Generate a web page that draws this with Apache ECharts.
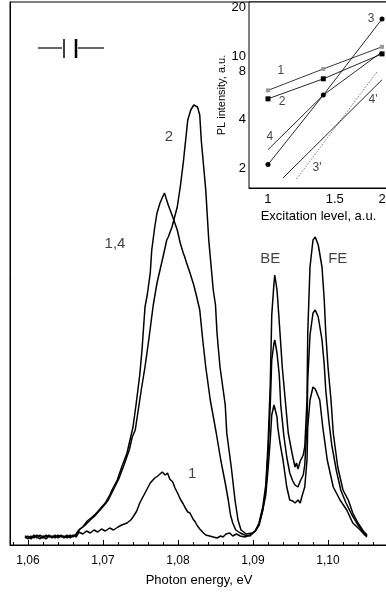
<!DOCTYPE html>
<html><head><meta charset="utf-8">
<script src="https://cdn.jsdelivr.net/npm/echarts@6/dist/echarts.min.js"></script>
<style>html,body{margin:0;padding:0;background:#fff}#c{width:386px;height:598px}</style>
</head><body><div id="c"></div>
<script>
// ---------- Main spectra (photon energy in eV, PL intensity in arbitrary units) ----------
const spectrum1Energy = [1.0596,1.0600,1.0604,1.0608,1.0612,1.0616,1.0620,1.0624,1.0628,1.0632,1.0636,1.0640,1.0644,1.0648,1.0652,1.0656,1.0660,1.0664,
  1.0668,1.0673,1.0678,1.0683,1.0688,1.0693,1.0698,1.0703,1.0709,1.0714,1.0720,1.0725,1.0732,1.0737,1.0740,1.0745,1.0749,1.0756,1.0763,1.0769,1.0773,1.0776,1.0779,1.0783,1.0786,1.0789,1.0793,1.0796,1.0800,1.0803,1.0807,1.0809,1.0813,1.0816,1.0820,1.0823,1.0826,1.0829,1.0834,1.0837,1.0842,1.0847,1.0852,1.0857,1.0860,1.0864,1.0869,1.0873,1.0878,1.0883,1.0889,1.0896,
  1.0903,1.0908,1.0913,1.0917,1.0920,1.0923,1.0925,1.0928,1.0929,1.0932,1.0933,1.0936,1.0940,1.0945,1.0949,1.0953,1.0956,1.0958,1.0960,1.0963,1.0965,1.0969,1.0972,1.0973,1.0976,1.0980,1.0983,1.0985,1.0989,1.0993,1.0999,1.1007,1.1016,1.1025,1.1033,1.1043,1.1049,1.1052];
const spectrum1Intensity = [7,9,7,10,8,6,9,8,10,7,9,8,10,7,9,8,10,8,
  13,11,14,12,15,13,16,14,17,15,18,20,22,25,28,34,42,52,62,67,69,71,73,70,72,66,63,57,51,46,41,38,33,32,26,23,19,16,12,10,9,8,7,9,8,11,12,9,11,9,8,10,
  14,20,35,50,75,105,130,140,142,128,118,102,85,58,45,44,42,40,45,42,48,58,85,118,145,158,156,155,145,118,85,58,45,35,22,15,10,8];

const spectrum14Energy = [1.0596,1.0600,1.0604,1.0608,1.0612,1.0616,1.0620,1.0624,1.0628,1.0632,1.0636,1.0640,1.0644,1.0648,1.0652,1.0656,1.0660,1.0664,
  1.0668,1.0673,1.0679,1.0684,1.0690,1.0696,1.0703,1.0709,1.0712,1.0719,1.0725,1.0732,1.0736,1.0740,1.0744,1.0749,1.0752,1.0756,1.0759,1.0763,1.0765,1.0769,1.0772,1.0776,1.0780,1.0782,1.0784,1.0787,1.0793,1.0799,1.0803,1.0807,1.0809,1.0811,1.0816,1.0821,1.0825,1.0829,1.0833,1.0837,1.0843,1.0851,1.0857,1.0863,1.0867,1.0870,1.0873,1.0877,1.0883,1.0889,1.0896,
  1.0903,1.0908,1.0913,1.0917,1.0920,1.0923,1.0925,1.0928,1.0929,1.0932,1.0935,1.0937,1.0941,1.0945,1.0949,1.0953,1.0956,1.0958,1.0960,1.0963,1.0967,1.0969,1.0972,1.0973,1.0976,1.0980,1.0983,1.0985,1.0987,1.0992,1.0995,1.0997,1.1001,1.1005,1.1011,1.1017,1.1024,1.1032,1.1040,1.1047,1.1052];
const spectrum14Intensity = [8,6,9,7,10,8,7,10,8,9,7,10,8,9,7,10,8,11,
  15,18,24,27,31,36,42,50,55,65,78,92,105,118,140,170,195,238,250,272,295,318,332,342,349,352,347,340,328,315,302,292,288,283,272,260,248,235,205,178,145,112,85,62,45,30,22,15,12,10,9,
  14,20,35,55,90,140,185,202,205,192,170,140,110,88,72,64,60,62,58,64,70,80,120,165,210,232,235,233,228,205,180,155,125,100,75,55,42,30,20,13,9];

const spectrum2Energy = [1.0596,1.0600,1.0604,1.0608,1.0612,1.0616,1.0620,1.0624,1.0628,1.0632,1.0636,1.0640,1.0644,1.0648,1.0652,1.0656,1.0660,1.0664,
  1.0669,1.0675,1.0683,1.0689,1.0696,1.0703,1.0707,1.0715,1.0721,1.0728,1.0735,1.0739,1.0743,1.0747,1.0751,1.0756,1.0761,1.0767,1.0772,1.0780,1.0785,1.0787,1.0792,1.0799,1.0803,1.0807,1.0813,1.0817,1.0821,1.0823,1.0826,1.0829,1.0831,1.0837,1.0841,1.0847,1.0850,1.0852,1.0856,1.0863,1.0865,1.0871,1.0876,1.0880,1.0884,1.0891,1.0899,
  1.0903,1.0908,1.0913,1.0917,1.0920,1.0923,1.0925,1.0928,1.0929,1.0932,1.0933,1.0936,1.0939,1.0943,1.0947,1.0952,1.0956,1.0958,1.0960,1.0963,1.0967,1.0969,1.0972,1.0973,1.0976,1.0980,1.0983,1.0985,1.0987,1.0992,1.0995,1.0997,1.1000,1.1004,1.1007,1.1013,1.1020,1.1027,1.1033,1.1040,1.1047,1.1052];
const spectrum2Intensity = [9,8,6,9,7,10,8,6,9,8,10,7,9,8,10,7,9,10,
  16,19,25,29,35,41,45,57,66,80,95,108,115,135,155,178,205,240,262,288,305,308,318,338,358,382,425,435,440,442,438,430,405,355,305,255,240,212,178,140,112,78,45,25,15,11,12,
  14,22,38,60,100,160,230,262,270,255,245,212,178,145,112,92,78,82,76,84,90,98,145,212,278,305,308,304,300,278,245,212,178,145,112,78,55,45,32,22,14,10];

const energyMajorTicks = [1.06, 1.07, 1.08, 1.09, 1.10];

// ---------- Inset (log-log) ----------
const excitationLevels = [1, 1.4, 2];
const inset1Values = [6.1, 8.3, 11.4];
const inset2Values = [5.4, 7.2, 10.3];
const inset3Values = [2.1, 5.7, 17];
const inset4Values = [2.6, 5.7, 10.6];
const fit3pExcitation = [1.19, 1.94];
const fit3pValues = [1.71, 7.96];
const fit4pExcitation = [1.095, 2.0];
const fit4pValues = [1.73, 7.1];
const insetXLabels = [1, 1.5, 2];
const insetYLabels = [2, 4, 8, 10, 20];
const insetYTicks = [2, 3, 4, 6, 8, 10, 20];

// ---------- Annotations ----------
const mainLabelTexts = ['2', '1,4', '1', 'BE', 'FE'];
const mainLabelEnergy = [1.0788, 1.0716, 1.0819, 1.0923, 1.1013];
const mainLabelIntensity = [408, 301, 71, 286, 286];
const insetLabelTexts = ['1', '2', '3', '4', "3'", "4'"];
const insetLabelX = [1.082, 1.089, 1.87, 1.012, 1.347, 1.893];
const insetLabelY = [8.07, 5.17, 17.0, 3.12, 2.0, 5.32];

const FONT = '"Liberation Sans", Arial, sans-serif';
const zip = (xs, ys) => xs.map((x, i) => [x, ys[i]]);
const minorTicks = [];
for (let k = 529; k <= 554; k++) minorTicks.push(k / 500);

const spec = (xs, ys) => ({
  type: 'line', data: zip(xs, ys), xAxisIndex: 0, yAxisIndex: 0, symbol: 'none',
  lineStyle: { color: '#000', width: 1.5 }, silent: true, z: 3
});
const inset = (xs, ys, extra) => Object.assign({
  type: 'line', data: zip(xs, ys), xAxisIndex: 2, yAxisIndex: 1, symbol: 'none',
  lineStyle: { color: '#111', width: 0.9 }, silent: true, z: 5
}, extra || {});

const chart = echarts.init(document.getElementById('c'), null, { renderer: 'canvas' });
chart.setOption({
  animation: false,
  backgroundColor: '#fff',
  textStyle: { fontFamily: FONT },
  grid: [
    { left: 10, top: 2, right: -2, bottom: 53, show: true, borderColor: '#000', borderWidth: 1, outerBoundsMode: 'none', containLabel: false },
    { left: 249, top: 2, right: -2, bottom: 410, show: true, borderColor: '#000', borderWidth: 1, backgroundColor: '#fff', z: 4, outerBoundsMode: 'none', containLabel: false }
  ],
  xAxis: [
    { type: 'value', gridIndex: 0, min: 1.0576, max: 1.108,
      axisLine: { show: true, lineStyle: { color: '#000', width: 1 } },
      axisTick: { show: true, inside: true, length: 3, customValues: minorTicks, lineStyle: { color: '#000' } },
      axisLabel: { customValues: energyMajorTicks, formatter: v => v.toFixed(2).replace('.', ','), fontSize: 12, color: '#000', margin: 10, fontFamily: FONT },
      splitLine: { show: false },
      name: 'Photon energy, eV', nameLocation: 'middle', nameGap: 29,
      nameTextStyle: { fontSize: 13, color: '#000', fontFamily: FONT } },
    { type: 'value', gridIndex: 0, min: 1.0576, max: 1.108, position: 'bottom', offset: 0,
      axisLine: { show: false },
      axisTick: { show: true, inside: true, length: 5, customValues: energyMajorTicks, lineStyle: { color: '#000' } },
      axisLabel: { show: false }, splitLine: { show: false } },
    { type: 'log', gridIndex: 1, min: 0.891, max: 2.074, logBase: 10,
      axisLine: { show: true, lineStyle: { color: '#000', width: 1 } },
      axisTick: { show: true, inside: true, length: 3, customValues: insetXLabels, lineStyle: { color: '#000' } },
      axisLabel: { customValues: insetXLabels, formatter: v => String(+(+v).toPrecision(3)), fontSize: 13, color: '#000', margin: 5, fontFamily: FONT },
      splitLine: { show: false }, minorTick: { show: false },
      name: 'Excitation level, a.u.', nameLocation: 'middle', nameGap: 22,
      nameTextStyle: { fontSize: 13, color: '#000', fontFamily: FONT } }
  ],
  yAxis: [
    { type: 'value', gridIndex: 0, min: 0, max: 543,
      axisLine: { show: true, lineStyle: { color: '#000' } }, axisTick: { show: false }, axisLabel: { show: false }, splitLine: { show: false } },
    { type: 'log', gridIndex: 1, min: 1.5, max: 21.7, logBase: 10,
      axisLine: { show: true, lineStyle: { color: '#000', width: 1 } },
      axisTick: { show: true, inside: true, length: 3, customValues: insetYTicks, lineStyle: { color: '#000' } },
      axisLabel: { customValues: insetYLabels, formatter: v => String(Math.round(v)), fontSize: 13, color: '#000', margin: 3, fontFamily: FONT },
      splitLine: { show: false },
      name: 'PL intensity, a.u.', nameLocation: 'middle', nameGap: 20, nameRotate: 90,
      nameTextStyle: { fontSize: 11, color: '#000', fontFamily: FONT } }
  ],
  graphic: [
    { type: 'line', shape: { x1: 38, y1: 48, x2: 62, y2: 48 }, style: { stroke: '#000', lineWidth: 1.2 } },
    { type: 'line', shape: { x1: 64, y1: 39, x2: 64, y2: 58 }, style: { stroke: '#000', lineWidth: 1.5 } },
    { type: 'line', shape: { x1: 76, y1: 39, x2: 76, y2: 58 }, style: { stroke: '#000', lineWidth: 2.5 } },
    { type: 'line', shape: { x1: 78, y1: 48, x2: 104, y2: 48 }, style: { stroke: '#000', lineWidth: 1.2 } }
  ],
  series: [
    spec(spectrum1Energy, spectrum1Intensity),
    spec(spectrum14Energy, spectrum14Intensity),
    spec(spectrum2Energy, spectrum2Intensity),
    { type: 'scatter', xAxisIndex: 0, yAxisIndex: 0, symbolSize: 1, itemStyle: { color: 'rgba(0,0,0,0)' }, silent: true, z: 6,
      data: mainLabelTexts.map((t, i) => ({ name: t, value: [mainLabelEnergy[i], mainLabelIntensity[i]] })),
      label: { show: true, position: 'inside', formatter: '{b}', fontSize: 15, color: '#111', fontFamily: FONT } },
    inset(excitationLevels, inset1Values, { symbol: 'rect', symbolSize: 4, itemStyle: { color: '#999' }, lineStyle: { color: '#222', width: 0.9 } }),
    inset(excitationLevels, inset2Values, { symbol: 'rect', symbolSize: 5, itemStyle: { color: '#000' } }),
    inset(excitationLevels, inset3Values, { symbol: 'circle', symbolSize: 5, itemStyle: { color: '#000' } }),
    inset(excitationLevels, inset4Values),
    inset(fit3pExcitation, fit3pValues, { lineStyle: { color: '#777', width: 1, type: [1.5, 1.5] } }),
    inset(fit4pExcitation, fit4pValues),
    { type: 'scatter', xAxisIndex: 2, yAxisIndex: 1, symbolSize: 1, itemStyle: { color: 'rgba(0,0,0,0)' }, silent: true, z: 6,
      data: insetLabelTexts.map((t, i) => ({ name: t, value: [insetLabelX[i], insetLabelY[i]] })),
      label: { show: true, position: 'inside', formatter: '{b}', fontSize: 12, color: '#111', fontFamily: FONT } }
  ]
});
</script></body></html>
